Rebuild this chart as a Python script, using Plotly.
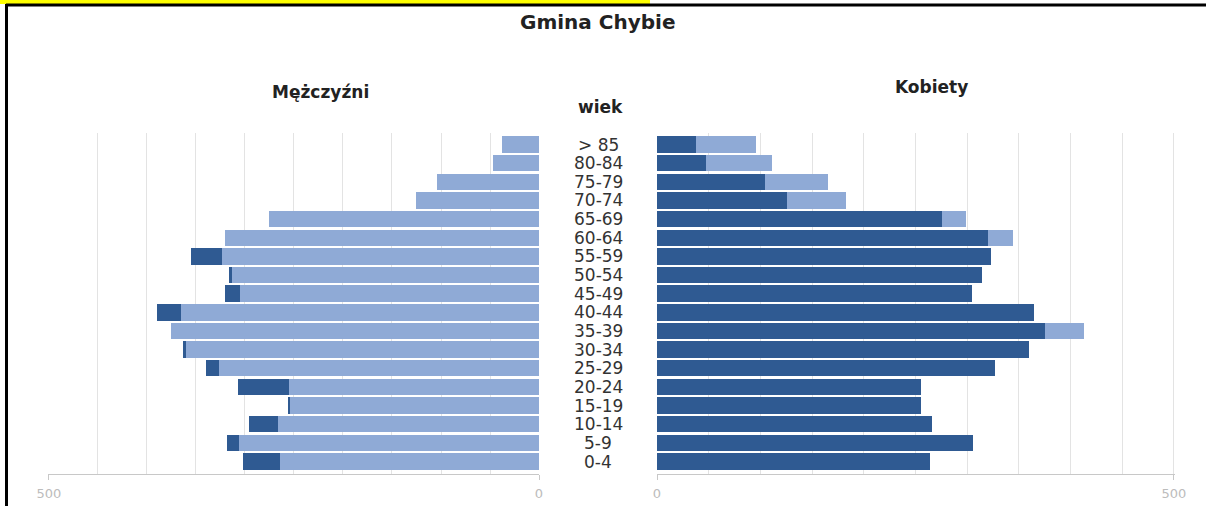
import plotly.graph_objects as go

# Age groups, top to bottom as in the picture
ages = ["> 85", "80-84", "75-79", "70-74", "65-69", "60-64", "55-59", "50-54", "45-49",
        "40-44", "35-39", "30-34", "25-29", "20-24", "15-19", "10-14", "5-9", "0-4"]
men = [38, 47, 104, 126, 276, 320, 355, 316, 320, 390, 375, 363, 340, 307, 256, 296, 318, 302]
women = [96, 111, 165, 183, 299, 344, 323, 314, 305, 365, 413, 360, 327, 255, 255, 266, 306, 264]

title = "Gmina Chybie"
label_men = "Mężczyźni"
label_women = "Kobiety"
label_age = "wiek"
tick_vals = [0, 500]

LIGHT = "#8faad6"
DARK = "#2f5a92"
W, H = 1215, 506

common = [min(m, f) for m, f in zip(men, women)]
men_excess = [m - c for m, c in zip(men, common)]
women_excess = [f - c for f, c in zip(women, common)]

fig = go.Figure()
fig.add_trace(go.Bar(y=ages, x=common, orientation="h", marker=dict(color=LIGHT, line_width=0),
                     xaxis="x", yaxis="y", name="M"))
fig.add_trace(go.Bar(y=ages, x=men_excess, orientation="h", marker=dict(color=DARK, line_width=0),
                     xaxis="x", yaxis="y", name="M+"))
fig.add_trace(go.Bar(y=ages, x=common, orientation="h", marker=dict(color=DARK, line_width=0),
                     xaxis="x2", yaxis="y", name="K"))
fig.add_trace(go.Bar(y=ages, x=women_excess, orientation="h", marker=dict(color=LIGHT, line_width=0),
                     xaxis="x2", yaxis="y", name="K+"))

grid = "#e3e3e3"
axis_common = dict(tickvals=tick_vals, showgrid=True, gridcolor=grid, gridwidth=1,
                   minor=dict(dtick=50, tick0=0, showgrid=True, gridcolor=grid, gridwidth=1),
                   showline=True, linecolor="#c8c8c8", linewidth=1,
                   ticks="outside", ticklen=5, tickcolor="#c8c8c8",
                   tickfont=dict(family="DejaVu Sans", size=13, color="#bcbcbc"),
                   ticklabelstandoff=3,
                   zeroline=False, fixedrange=True, automargin=False)

fig.update_layout(
    width=W, height=H,
    margin=dict(l=0, r=0, t=0, b=0, pad=0, autoexpand=False),
    paper_bgcolor="white", plot_bgcolor="white",
    barmode="stack", bargap=0.12, showlegend=False,
    xaxis=dict(domain=[48 / W, 539 / W], range=[501, 0], anchor="y", **axis_common),
    xaxis2=dict(domain=[657 / W, 1175 / W], range=[0, 501], anchor="y", **axis_common),
    yaxis=dict(domain=[(H - 473.5) / H, (H - 132.5) / H], categoryorder="array",
               categoryarray=ages[::-1], showticklabels=False, showgrid=False,
               zeroline=False, fixedrange=True, automargin=False),
)

# age labels in the middle
for a in ages:
    fig.add_annotation(x=598 / W, xref="paper", y=a, yref="y", text=a, showarrow=False,
                       font=dict(family="DejaVu Sans", size=17, color="#333333"),
                       xanchor="center", yanchor="middle")

def px_text(txt, px, py, size):
    fig.add_annotation(x=px / W, y=1 - py / H, xref="paper", yref="paper", text="<b>%s</b>" % txt,
                       showarrow=False, xanchor="center", yanchor="middle",
                       font=dict(family="DejaVu Sans", size=size, color="#222222"))

px_text(title, 598, 22, 20)
px_text(label_men, 321, 92, 17)
px_text(label_age, 600, 107, 17)
px_text(label_women, 931, 87, 17)

# cropped frame of the source page
fig.add_shape(type="rect", xref="paper", yref="paper", x0=0, x1=650 / W, y0=1 - 4 / H, y1=1,
              fillcolor="#ffff00", line_width=0, layer="above")
fig.add_shape(type="line", xref="paper", yref="paper", x0=6 / W, x1=1206 / W, y0=1 - 5 / H, y1=1 - 5 / H,
              line=dict(color="black", width=3), layer="above")
fig.add_shape(type="line", xref="paper", yref="paper", x0=6.5 / W, x1=6.5 / W, y0=0, y1=1 - 4 / H,
              line=dict(color="black", width=3), layer="above")

fig.write_html("out.html", config={"displayModeBar": False},
               post_script="document.body.style.margin='0';document.body.style.overflow='hidden';")
